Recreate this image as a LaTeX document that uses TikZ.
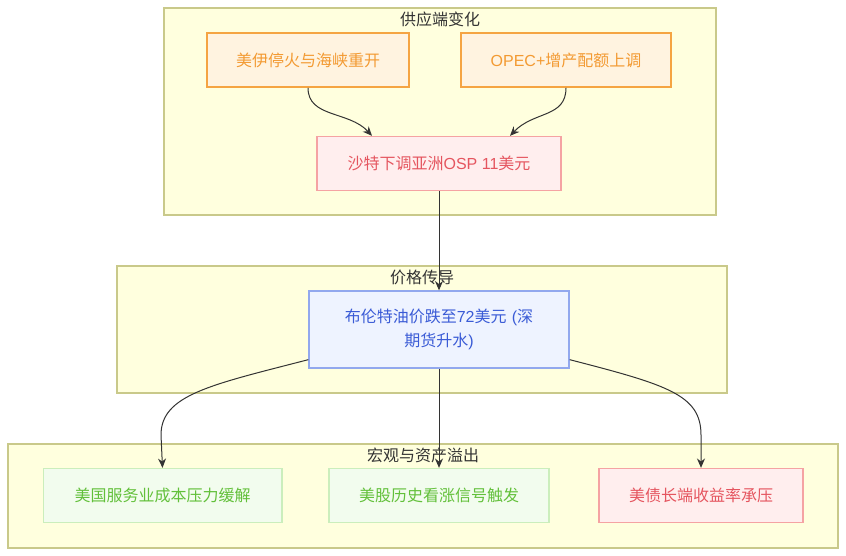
\documentclass[tikz,border=0pt]{standalone}
\usepackage{fontspec}
\setmainfont{Liberation Sans}
\newfontfamily\cjk{Noto Sans CJK SC}
\usetikzlibrary{arrows.meta,calc}
\definecolor{clfill}{HTML}{FFFFDE}
\definecolor{cldraw}{HTML}{C9C98A}
\definecolor{orfill}{HTML}{FFF3E0}
\definecolor{ordraw}{HTML}{F5A442}
\definecolor{ortext}{HTML}{F39A32}
\definecolor{rdfill}{HTML}{FFEEEE}
\definecolor{rddraw}{HTML}{F5A3A3}
\definecolor{rdtext}{HTML}{E5555F}
\definecolor{blfill}{HTML}{EEF3FF}
\definecolor{bldraw}{HTML}{92A8EE}
\definecolor{bltext}{HTML}{3A5BD6}
\definecolor{grfill}{HTML}{F2FCEE}
\definecolor{grdraw}{HTML}{CBEEBC}
\definecolor{grtext}{HTML}{62C03A}
\definecolor{edgec}{HTML}{333333}
\begin{document}
\begin{tikzpicture}[x=0.75pt,y=-0.75pt,
  cluster/.style={draw=cldraw,fill=clfill,line width=0.9pt},
  cltitle/.style={font=\fontsize{12}{13}\selectfont\cjk,text=black!80,inner sep=0pt},
  box/.style={rectangle,minimum height=40.5pt,inner sep=0pt,align=center,font=\fontsize{12}{18}\selectfont},
  orbox/.style={box,draw=ordraw,fill=orfill,text=ortext,line width=1.3pt},
  rdbox/.style={box,draw=rddraw,fill=rdfill,text=rdtext,line width=1pt},
  blbox/.style={box,draw=bldraw,fill=blfill,text=bltext,line width=1pt},
  grbox/.style={box,draw=grdraw,fill=grfill,text=grtext,line width=1pt},
  edge/.style={draw=edgec,line width=0.75pt,-{Stealth[length=7pt,width=6pt]}}]
\useasboundingbox (0,0) rectangle (846,556);
% clusters
\draw[cluster] (164,8) rectangle (716,215);
\node[cltitle] (t1) at (440,19) {供应端变化};
\draw[cluster] (117,266) rectangle (727,393);
\node[cltitle] (t2) at (422,277) {价格传导};
\draw[cluster] (8,444) rectangle (838,548);
\node[cltitle] (t3) at (423,455) {宏观与资产溢出};
% nodes
\node[orbox,minimum width=151.5pt] (A) at (308,60) {\cjk 美伊停火与海峡重开};
\node[orbox,minimum width=157.5pt] (B) at (566,60) {OPEC+{\cjk 增产配额上调}};
\node[rdbox,minimum width=183pt] (C) at (439,163.5) {{\cjk 沙特下调亚洲}OSP 11{\cjk 美元}};
\node[blbox,minimum width=195pt,minimum height=57.75pt,text width=170pt] (D) at (439,329.5) {{\cjk 布伦特油价跌至}72{\cjk 美元} ({\cjk 深}\\{\cjk 期货升水})};
\node[grbox,minimum width=179pt] (E) at (162.5,495.5) {\cjk 美国服务业成本压力缓解};
\node[grbox,minimum width=165pt] (F) at (439,495.5) {\cjk 美股历史看涨信号触发};
\node[rdbox,minimum width=153pt] (G) at (701,495.5) {\cjk 美债长端收益率承压};
% edges
\draw[edge] (A.south) .. controls ($(A.south)+(0,30)$) and ($(C.north)+(-90,-25)$) .. ($(C.north)+(-67,0)$);
\draw[edge] (B.south) .. controls ($(B.south)+(0,30)$) and ($(C.north)+(95,-25)$) .. ($(C.north)+(71,0)$);
\draw[edge] (C.south) -- (D.north);
\draw[edge] ($(D.south west)+(0,-9)$) .. controls (210,385) and (161,395) .. (161,435) -- (E.north);
\draw[edge] (D.south) -- (F.north);
\draw[edge] ($(D.south east)+(0,-9)$) .. controls (668,385) and (701,395) .. (701,435) -- (G.north);
\end{tikzpicture}
\end{document}
